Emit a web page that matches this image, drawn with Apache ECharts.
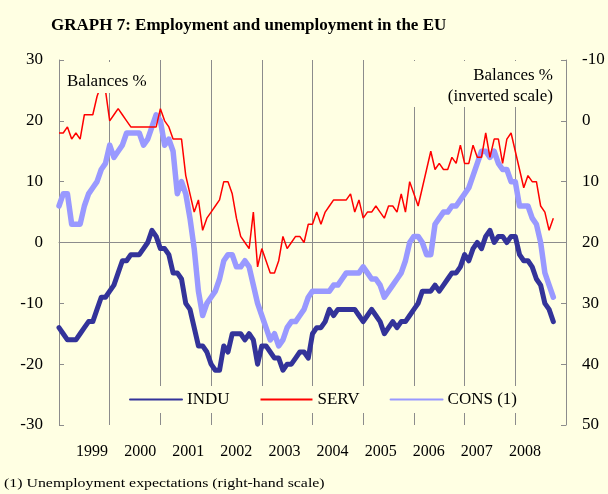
<!DOCTYPE html>
<html><head><meta charset="utf-8">
<script src="https://cdn.jsdelivr.net/npm/echarts@6.0.0/dist/echarts.min.js"></script>
<style>html,body{margin:0;padding:0;background:#FFFFE3;}#c{width:608px;height:494px;}</style>
</head><body><div id="c"></div>
<script>
// Year labels (monthly data from Jan 1999 to Oct 2008)
const years = ['1999','2000','2001','2002','2003','2004','2005','2006','2007','2008'];
// Industry confidence (left scale)
const indu = [
 -14,-15,-16,-16,-16,-15,-14,-13,-13,-11,-9,-9,
 -8,-7,-5,-3,-3,-2,-2,-2,-1,0,2,1,
 -1,-1,-2,-5,-5,-6,-10,-11,-14,-17,-17,-18,
 -20,-21,-21,-17,-18,-15,-15,-15,-16,-15,-16,-20,
 -17,-17,-18,-19,-19,-21,-20,-20,-19,-18,-18,-19,
 -15,-14,-14,-13,-11,-12,-11,-11,-11,-11,-11,-12,
 -13,-12,-11,-12,-13,-15,-14,-13,-14,-13,-13,-12,
 -11,-10,-8,-8,-8,-7,-8,-7,-6,-5,-5,-4,
 -2,-3,-1,0,-1,1,2,0,1,1,0,1,
 1,-2,-3,-3,-4,-6,-7,-10,-11,-13
];
// Services confidence (left scale)
const serv = [
 18,18,19,17,18,17,21,21,21,24,26,25,
 20,21,22,21,20,19,19,19,19,19,19,19,
 22,20,19,17,17,17,11,8,5,7,2,4,
 5,6,7,10,10,8,4,1,0,-1,5,-4,
 -1,-3,-5,-5,-3,1,-1,0,1,1,0,3,
 3,5,3,5,6,7,7,7,7,8,5,7,
 4,5,5,6,5,4,6,6,5,8,5,10,
 8,6,9,12,15,12,13,12,12,14,13,16,
 13,13,16,14,14,18,14,17,17,13,17,18,
 15,12,9,11,10,10,6,5,2,4
];
// Consumers' unemployment expectations (right scale, inverted)
const cons = [
 14,12,12,17,17,17,14,12,11,10,8,7,
 4,6,5,4,2,2,2,2,4,3,1,-1,
 0,4,3,5,12,10,12,16,21,28,32,30,
 29,28,26,23,22,22,24,24,23,24,27,30,
 32,34,36,35,37,36,34,33,33,32,31,29,
 28,28,28,28,28,27,27,26,25,25,25,25,
 24,25,26,26,27,29,28,27,26,25,23,20,
 19,19,20,22,22,17,16,15,15,14,14,13,
 12,11,9,7,5,5,6,5,7,8,8,10,
 10,14,14,14,16,17,20,25,27,29
];

const BG = '#FFFFE3';
const FONT = '"Liberation Serif", "Times New Roman", serif';
const GRID_C = '#8c8c8c';
const toXY = arr => arr.map((v, i) => [i, v]);

const chart = echarts.init(document.getElementById('c'), null, {renderer: 'canvas'});
chart.setOption({
  backgroundColor: BG,
  animation: false,
  textStyle: {fontFamily: FONT},
  title: {
    left: 46, top: 12,
    text: '{a|GRAPH 7: }{b|Employment and unemployment in the EU}',
    textStyle: {rich: {
      a: {fontFamily: FONT, fontSize: 17, color: '#000'},
      b: {fontFamily: FONT, fontSize: 17, fontWeight: 'bold', color: '#000'}
    }}
  },
  grid: [
    {left: 59, right: 42, top: 60, bottom: 69},
    // row that carries the year labels
    {left: 68, right: 59, top: 60, bottom: 69}
  ],
  xAxis: [
    {type: 'value', gridIndex: 0, min: 0, max: 120, interval: 12,
     axisLine: {lineStyle: {color: GRID_C}},
     axisTick: {inside: true, length: 5, lineStyle: {color: GRID_C}},
     axisLabel: {show: false},
     splitLine: {show: true, lineStyle: {color: GRID_C, width: 1}}},
    {type: 'category', gridIndex: 1, data: years, position: 'bottom', boundaryGap: true,
     axisLine: {show: false}, axisTick: {show: false}, splitLine: {show: false},
     axisLabel: {margin: 19, fontSize: 16, color: '#000', fontFamily: FONT}}
  ],
  yAxis: [
    {type: 'value', gridIndex: 0, min: -30, max: 30, interval: 10, position: 'left',
     axisLine: {show: true, lineStyle: {color: GRID_C}},
     axisTick: {show: true, inside: true, length: 5, lineStyle: {color: GRID_C}},
     splitLine: {show: false},
     axisLabel: {margin: 16, fontSize: 17, color: '#000', fontFamily: FONT}},
    {type: 'value', gridIndex: 0, min: -10, max: 50, interval: 10, position: 'right', inverse: true,
     axisLine: {show: true, lineStyle: {color: GRID_C}},
     axisTick: {show: true, inside: true, length: 5, lineStyle: {color: GRID_C}},
     splitLine: {show: false},
     axisLabel: {margin: 16, fontSize: 17, color: '#000', fontFamily: FONT}},
    {type: 'value', gridIndex: 1, show: false}
  ],
  legend: {
    left: 122, top: 386, padding: [5, 10, 5, 7],
    itemWidth: 52, itemHeight: 14, itemGap: 30,
    backgroundColor: BG,
    itemStyle: {opacity: 0},
    textStyle: {fontFamily: FONT, fontSize: 17, color: '#000'},
    data: ['INDU', 'SERV', 'CONS (1)']
  },
  series: [
    {name: 'INDU', type: 'line', data: toXY(indu), xAxisIndex: 0, yAxisIndex: 0,
     symbol: 'none', z: 3,
     lineStyle: {color: '#333399', width: 5, cap: 'round', join: 'round'},
     itemStyle: {color: '#333399'}},
    {name: 'SERV', type: 'line', data: toXY(serv), xAxisIndex: 0, yAxisIndex: 0,
     symbol: 'none', z: 4,
     lineStyle: {color: '#FF0000', width: 1.5},
     itemStyle: {color: '#FF0000'}},
    {name: 'CONS (1)', type: 'line', data: toXY(cons), xAxisIndex: 0, yAxisIndex: 1,
     symbol: 'none', z: 2,
     lineStyle: {color: '#9999FF', width: 5.5, cap: 'round', join: 'round'},
     itemStyle: {color: '#9999FF'}}
  ],
  graphic: [
    {type: 'rect', shape: {x: 62, y: 62, width: 94, height: 31}, style: {fill: BG}, z: 10},
    {type: 'text', x: 67, y: 82, z: 11,
     style: {text: 'Balances %', font: '17px "Liberation Serif"', fill: '#000',
             verticalAlign: 'middle', textVerticalAlign: 'middle'}},
    {type: 'rect', shape: {x: 405, y: 61, width: 158, height: 46}, style: {fill: BG}, z: 10},
    {type: 'text', x: 553, y: 76, z: 11,
     style: {text: 'Balances %', font: '17px "Liberation Serif"', fill: '#000',
             align: 'right', textAlign: 'right', verticalAlign: 'middle', textVerticalAlign: 'middle'}},
    {type: 'text', x: 553, y: 97, z: 11,
     style: {text: '(inverted scale)', font: '17px "Liberation Serif"', fill: '#000',
             align: 'right', textAlign: 'right', verticalAlign: 'middle', textVerticalAlign: 'middle'}},
    {type: 'text', x: 4, y: 484, z: 11, scaleX: 1.22,
     style: {text: '(1) Unemployment expectations (right-hand scale)', font: '13px "Liberation Serif"', fill: '#000',
             verticalAlign: 'middle', textVerticalAlign: 'middle'}}
  ]
});
</script>
</body></html>
